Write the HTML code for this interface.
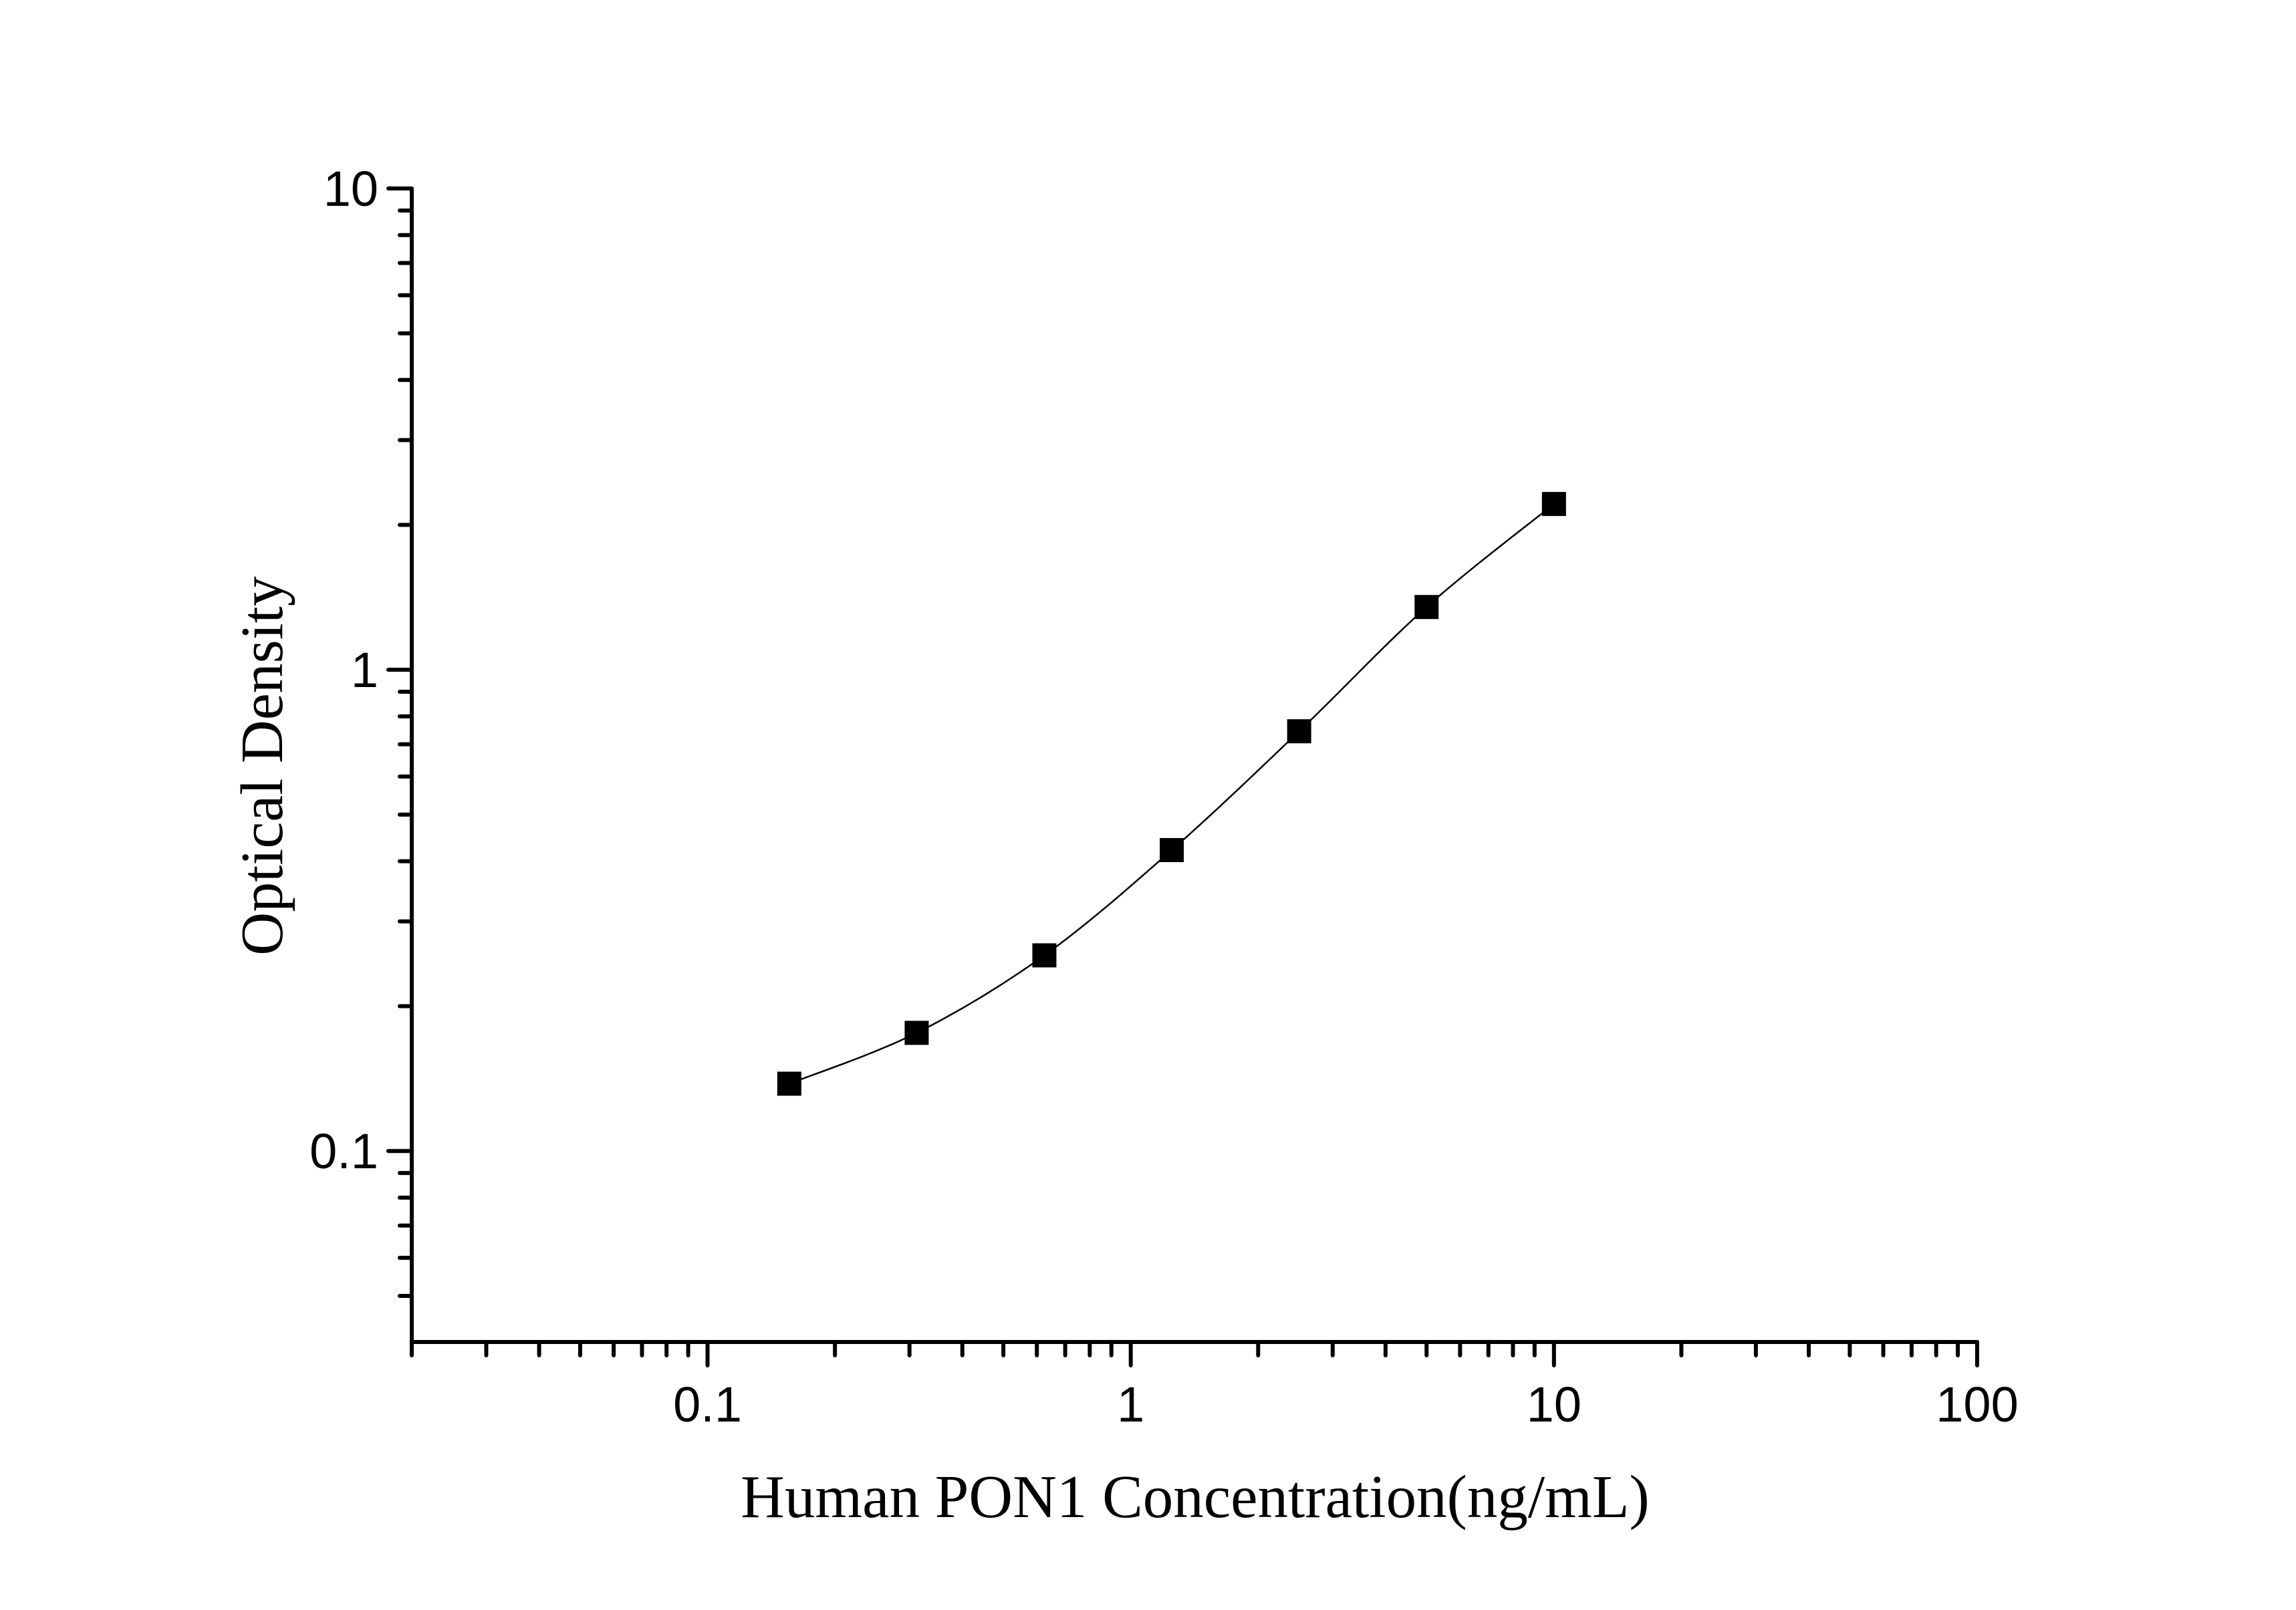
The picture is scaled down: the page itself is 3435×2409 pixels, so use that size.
<!DOCTYPE html>
<html><head><meta charset="utf-8"><style>
html,body{margin:0;padding:0;background:#fff;}
svg{display:block;}
</style></head><body>
<svg id="chart" width="3435" height="2409" viewBox="0 0 3435 2409" xmlns="http://www.w3.org/2000/svg">
<rect width="3435" height="2409" fill="#fff"/>
<g id="axes"></g>
<g id="plot"></g>
<text x="1788" y="2270" font-family="Liberation Serif, serif" font-size="91" text-anchor="middle">Human PON1 Concentration(ng/mL)</text>
<text transform="translate(422,1146) rotate(-90)" font-family="Liberation Serif, serif" font-size="90" text-anchor="middle">Optical Density</text>
</svg>
<script>
const concentrations = [0.156, 0.312, 0.625, 1.25, 2.5, 5, 10];
const densities = [0.138, 0.176, 0.255, 0.422, 0.745, 1.35, 2.21];
const xTickLabels = ["0.1", "1", "10", "100"];
const yTickLabels = ["0.1", "1", "10"];

const NS = "http://www.w3.org/2000/svg";
const X0 = 616, X1 = 2958, XMIN = 0.02, XMAX = 100;
const YTOP = 282, YBOT = 2008, YMIN = 0.0401, YMAX = 10;
function sx(v){ return X0 + (Math.log10(v)-Math.log10(XMIN))/(Math.log10(XMAX)-Math.log10(XMIN))*(X1-X0); }
function sy(v){ return YBOT - (Math.log10(v)-Math.log10(YMIN))/(Math.log10(YMAX)-Math.log10(YMIN))*(YBOT-YTOP); }
function mk(tag, attrs, parent){ const e=document.createElementNS(NS,tag); for(const k in attrs) e.setAttribute(k,attrs[k]); parent.appendChild(e); return e; }

const axes = document.getElementById('axes');
const plot = document.getElementById('plot');
const L = {stroke:'#000','stroke-width':6,'stroke-linecap':'round'};

const ya = mk('line', Object.assign({x1:X0,y1:YTOP,x2:X0,y2:YBOT},L), axes);


const xa = mk('line', Object.assign({x1:X0,y1:YBOT,x2:X1,y2:YBOT},L), axes);



for (let d=-2; d<=1; d++){
  for (let m=1; m<=9; m++){
    const v = m*Math.pow(10,d);
    if (v < XMIN-1e-9 || v > XMAX+1e-9) continue;
    const x = sx(v), major = (m===1);
    const t = mk('line', Object.assign({x1:x,y1:YBOT,x2:x,y2:YBOT+(major?35:20)},L), axes);
    
    
  }
}
const t100 = mk('line', Object.assign({x1:sx(100),y1:YBOT,x2:sx(100),y2:YBOT+35},L), axes);


xTickLabels.forEach(s=>{
  const t = mk('text',{x:sx(parseFloat(s)),y:2127,'font-family':'Liberation Sans, sans-serif','font-size':74,'text-anchor':'middle'},axes);
  t.textContent = s;
  
  
});

for (let d=-2; d<=0; d++){
  for (let m=1; m<=9; m++){
    const v = m*Math.pow(10,d);
    if (v < YMIN-1e-9 || v > YMAX+1e-9) continue;
    const y = sy(v), major = (m===1);
    const t = mk('line', Object.assign({x1:X0,y1:y,x2:X0-(major?35:18),y2:y},L), axes);
    
    
  }
}
const t10 = mk('line', Object.assign({x1:X0,y1:sy(10),x2:X0-35,y2:sy(10)},L), axes);


yTickLabels.forEach(s=>{
  const t = mk('text',{x:566,y:sy(parseFloat(s))+26,'font-family':'Liberation Sans, sans-serif','font-size':74,'text-anchor':'end'},axes);
  t.textContent = s;
  
  
});

const P = concentrations.map((c,i)=>[sx(c), sy(densities[i])]);
let d = `M${P[0][0]},${P[0][1]}`;
for (let i=0;i<P.length-1;i++){
  const p0=P[Math.max(i-1,0)], p1=P[i], p2=P[i+1], p3=P[Math.min(i+2,P.length-1)];
  const c1=[p1[0]+(p2[0]-p0[0])/6, p1[1]+(p2[1]-p0[1])/6];
  const c2=[p2[0]-(p3[0]-p1[0])/6, p2[1]-(p3[1]-p1[1])/6];
  d += ` C${c1[0]},${c1[1]} ${c2[0]},${c2[1]} ${p2[0]},${p2[1]}`;
}
const curve = mk('path',{d:d,fill:'none',stroke:'#000','stroke-width':2.5},plot);



P.forEach(p=>{
  const r = mk('rect',{x:p[0]-18,y:p[1]-18,width:36,height:36,fill:'#000'},plot);
  
  
});
</script>
</body></html>
